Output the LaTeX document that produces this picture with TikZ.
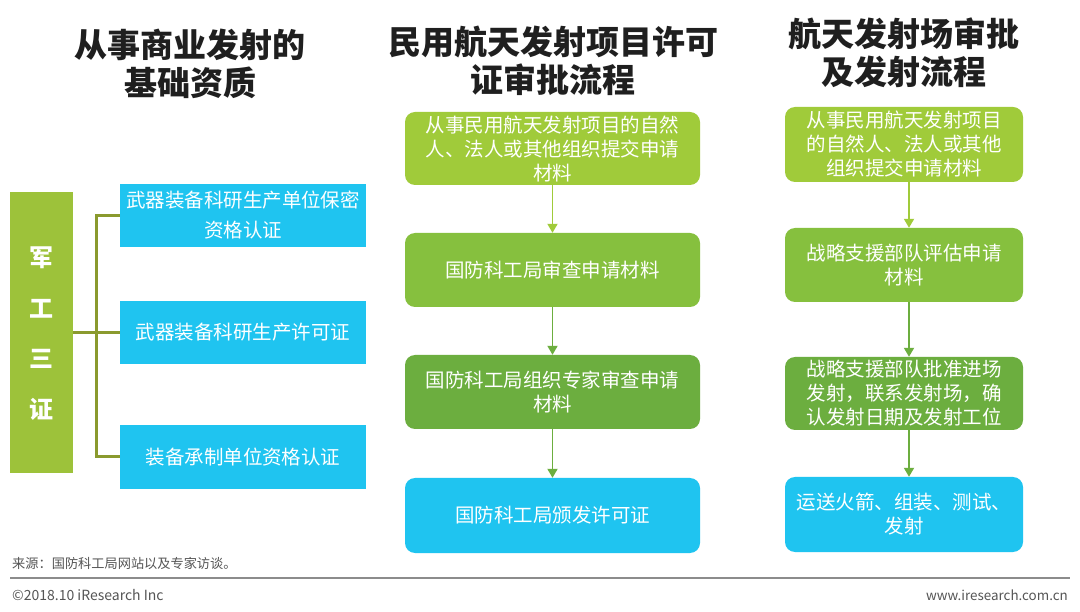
\documentclass[tikz,border=0pt]{standalone}
\usepackage{fontspec}
\setmainfont{Noto Sans CJK SC}
\newfontfamily\cjk{Noto Sans CJK SC}
\usetikzlibrary{arrows.meta}
\definecolor{lgreen}{HTML}{A0CB3A}
\definecolor{mgreen}{HTML}{86C03E}
\definecolor{dgreen}{HTML}{6CAE3F}
\definecolor{cyanb}{HTML}{1FC4F0}
\definecolor{barg}{HTML}{9DC23A}
\definecolor{brk}{HTML}{8A9A2E}
\definecolor{ftc}{HTML}{555555}
\begin{document}
\begin{tikzpicture}[x=1pt,y=-1pt,
  title/.style={font=\cjk\fontsize{33}{38}\selectfont\bfseries, text=black!88, align=center, inner sep=0pt},
  flowbox/.style={rounded corners=10pt, minimum height=#1, text=white, align=center, font=\cjk\fontsize{19.5}{24}\selectfont, inner sep=0pt},
  sqbox/.style={fill=cyanb, minimum width=246pt, minimum height=63pt, text=white, align=center, font=\cjk\fontsize{19.5}{30}\selectfont, inner sep=0pt},
  flowarr/.style={draw=#1, line width=1.8pt, -{Triangle[width=10pt,length=9pt]}},
  brline/.style={draw=brk, line width=3pt},
  foot/.style={text=ftc, inner sep=0pt}
]
\useasboundingbox (0,0) rectangle (1080,612);
\fill[white] (0,0) rectangle (1080,612);

% titles
\node[title] (t1) at (190,64) {从事商业发射的\\基础资质};
\node[title] (t2) at (553,61) {民用航天发射项目许可\\证审批流程};
\node[title] (t3) at (904,53) {航天发射场审批\\及发射流程};

% left column
\node[fill=barg, minimum width=63pt, minimum height=281pt, inner sep=0pt] (bar) at (41.5,332.5) {};
\node[text=white, font=\cjk\fontsize{24}{24}\selectfont\bfseries] (c1) at (41.5,258) {军};
\node[text=white, font=\cjk\fontsize{24}{24}\selectfont\bfseries] (c2) at (41.5,309) {工};
\node[text=white, font=\cjk\fontsize{24}{24}\selectfont\bfseries] (c3) at (41.5,359) {三};
\node[text=white, font=\cjk\fontsize{24}{24}\selectfont\bfseries] (c4) at (41.5,409) {证};

\node[sqbox] (q1) at (243,215.5) {武器装备科研生产单位保密\\资格认证};
\node[sqbox] (q2) at (243,332.5) {武器装备科研生产许可证};
\node[sqbox] (q3) at (243,457) {装备承制单位资格认证};

\coordinate (bj) at (96,332.5);
\coordinate (bt) at (96,215.5);
\coordinate (bb) at (96,457);
\draw[brline] (bar.east |- bj) -- (bj);
\draw[brline] (q1.west) -- (bt) -- (bb) -- (q3.west);
\draw[brline] (bj) -- (q2.west);

% middle column
\node[flowbox=73pt, fill=lgreen, minimum width=295pt] (m1) at (552.5,148.5) {从事民用航天发射项目的自然\\人、法人或其他组织提交申请\\材料};
\node[flowbox=74pt, fill=mgreen, minimum width=295pt] (m2) at (552.5,270) {国防科工局审查申请材料};
\node[flowbox=74pt, fill=dgreen, minimum width=295pt] (m3) at (552.5,392) {国防科工局组织专家审查申请\\材料};
\node[flowbox=75pt, fill=cyanb, minimum width=295pt] (m4) at (552.5,515.5) {国防科工局颁发许可证};
\draw[flowarr=lgreen] (m1) -- (m2);
\draw[flowarr=dgreen] (m2) -- (m3);
\draw[flowarr=dgreen] (m3) -- (m4);

% right column
\node[flowbox=75pt, fill=lgreen, minimum width=238pt] (r1) at (904,144.5) {从事民用航天发射项目\\的自然人、法人或其他\\组织提交申请材料};
\node[flowbox=74pt, fill=mgreen, minimum width=238pt] (r2) at (904,265) {战略支援部队评估申请\\材料};
\node[flowbox=73pt, fill=dgreen, minimum width=238pt] (r3) at (904,393.5) {战略支援部队批准进场\\发射，联系发射场，确\\认发射日期及发射工位};
\node[flowbox=75pt, fill=cyanb, minimum width=238pt] (r4) at (904,514.5) {运送火箭、组装、测试、\\发射};
\coordinate (ra) at (909,0);
\draw[flowarr=lgreen] (r1.south -| ra) -- (r2.north -| ra);
\draw[flowarr=dgreen] (r2.south -| ra) -- (r3.north -| ra);
\draw[flowarr=dgreen] (r3.south -| ra) -- (r4.north -| ra);

% footer
\node[foot, anchor=west, font=\cjk\fontsize{13.2}{13.2}\selectfont] (src) at (12,563) {来源：国防科工局网站以及专家访谈。};
\coordinate (la) at (10,578);
\coordinate (lb) at (1070,578);
\draw[draw=black!45, line width=1.5pt] (la) -- (lb);
\node[foot, anchor=west, font=\cjk\fontsize{14}{14}\selectfont] (cp) at (12,595) {©2018.10 iResearch Inc};
\node[foot, anchor=east, font=\cjk\fontsize{13.4}{13.4}\selectfont] (www) at (1068,595) {www.iresearch.com.cn};
\end{tikzpicture}
\end{document}
